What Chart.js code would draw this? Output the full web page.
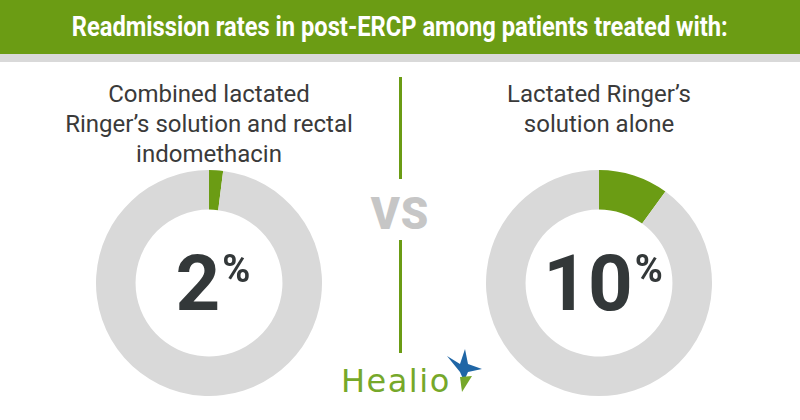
<!DOCTYPE html>
<html>
<head>
<meta charset="utf-8">
<script src="https://cdn.jsdelivr.net/npm/chart.js@4/dist/chart.umd.min.js"></script>
<style>
  html, body { margin: 0; padding: 0; background: #fff; }
  #wrap { position: relative; width: 800px; height: 420px; overflow: hidden; font-family: Roboto, "Noto Sans", sans-serif; }
  #header { position: absolute; left: 0; top: 0; width: 800px; height: 54px; background: #6b9c14; }
  #stripe { position: absolute; left: 0; top: 54px; width: 800px; height: 8px; background: #d9d9d9; }
  #title { position: absolute; left: 0; top: 11px; width: 800px; text-align: center; color: #fff;
           font: 700 27px Roboto, sans-serif; white-space: nowrap; }
  #title span { display: inline-block; transform-origin: center; }
  .label { position: absolute; width: 320px; text-align: center; color: #3a3a3a;
           font: 400 24px Roboto, sans-serif; line-height: 30px; }
  .vline { position: absolute; left: 399px; width: 3px; background: #6b9c14; }
  #vs { position: absolute; left: 340px; top: 188px; width: 120px; text-align: center;
        font: 900 44px Roboto, sans-serif; color: #c6c6c6; letter-spacing: 1px; }
  canvas.donut { position: absolute; }
  #logo { position: absolute; left: 341px; top: 362px; font: 400 32px "DejaVu Sans", sans-serif;
          color: #76a82a; letter-spacing: 1.5px; line-height: 38px; }
  #star { position: absolute; left: 441px; top: 343px; }
</style>
</head>
<body>
<div id="wrap">
  <div id="header"></div>
  <div id="stripe"></div>
  <div id="title"><span id="titleText"></span></div>
  <div class="label" id="label0" style="left:49px; top:79px;"></div>
  <div class="label" id="label1" style="left:439px; top:79px;"></div>
  <div class="vline" style="top:77px; height:102px;"></div>
  <div class="vline" style="top:240px; height:113px;"></div>
  <div id="vs">VS</div>
  <canvas class="donut" id="donut0" width="226" height="226" style="left:96px; top:170px; width:226px; height:226px;"></canvas>
  <canvas class="donut" id="donut1" width="226" height="226" style="left:486px; top:170px; width:226px; height:226px;"></canvas>
  <div id="logo">Healio</div>
  <svg id="star" width="50" height="52" viewBox="0 0 50 52">
    <polygon points="6,13 19,21 24,6 27,21 41,26 27,29 23,38 19,29" fill="#1f66a6"/>
    <polygon points="19,34 31,33 21,49" fill="#76a82a"/>
  </svg>
</div>
<script>
const titleText = 'Readmission rates in post-ERCP among patients treated with:';
const groupLabels = [
  ['Combined lactated', 'Ringer\u2019s solution and rectal', 'indomethacin'],
  ['Lactated Ringer\u2019s', 'solution alone']
];
const readmissionRates = [2, 10];
const sliceNames = ['Readmitted', 'Not readmitted'];
const greenColor = '#6b9c14';
const greyColor = '#d9d9d9';

// header text, squeezed to the condensed width of the original
const t = document.getElementById('titleText');
t.textContent = titleText;
const w = t.getBoundingClientRect().width;
t.style.transform = 'scaleX(' + (656 / w) + ')';

groupLabels.forEach((lines, i) => {
  document.getElementById('label' + i).innerHTML = lines.join('<br>');
});

const centerText = {
  id: 'centerText',
  afterDraw(chart) {
    const ctx = chart.ctx;
    const arc = chart.getDatasetMeta(0).data[0];
    const value = chart.data.datasets[0].data[0];
    ctx.save();
    ctx.fillStyle = '#333839';
    ctx.textBaseline = 'alphabetic';
    ctx.font = '700 78px Roboto';
    const num = String(value);
    const nw = ctx.measureText(num).width;
    ctx.font = '700 38px Roboto';
    const pw = ctx.measureText('%').width;
    const x0 = arc.x + 4 - (nw + pw + 2) / 2;
    const base = arc.y + 27;
    ctx.font = '700 78px Roboto';
    ctx.fillText(num, x0, base);
    ctx.font = '700 38px Roboto';
    ctx.fillText('%', x0 + nw + 2, base - 28);
    ctx.restore();
  }
};

readmissionRates.forEach((rate, i) => {
  new Chart(document.getElementById('donut' + i).getContext('2d'), {
    type: 'doughnut',
    data: {
      labels: sliceNames,
      datasets: [{
        data: [rate, 100 - rate],
        backgroundColor: [greenColor, greyColor],
        borderWidth: 0,
        hoverOffset: 0,
      }],
    },
    options: {
      responsive: false,
      animation: false,
      cutout: '65%',
      layout: { padding: 0 },
      plugins: { legend: { display: false }, tooltip: { enabled: false } },
    },
    plugins: [centerText],
  });
});
</script>
</body>
</html>
